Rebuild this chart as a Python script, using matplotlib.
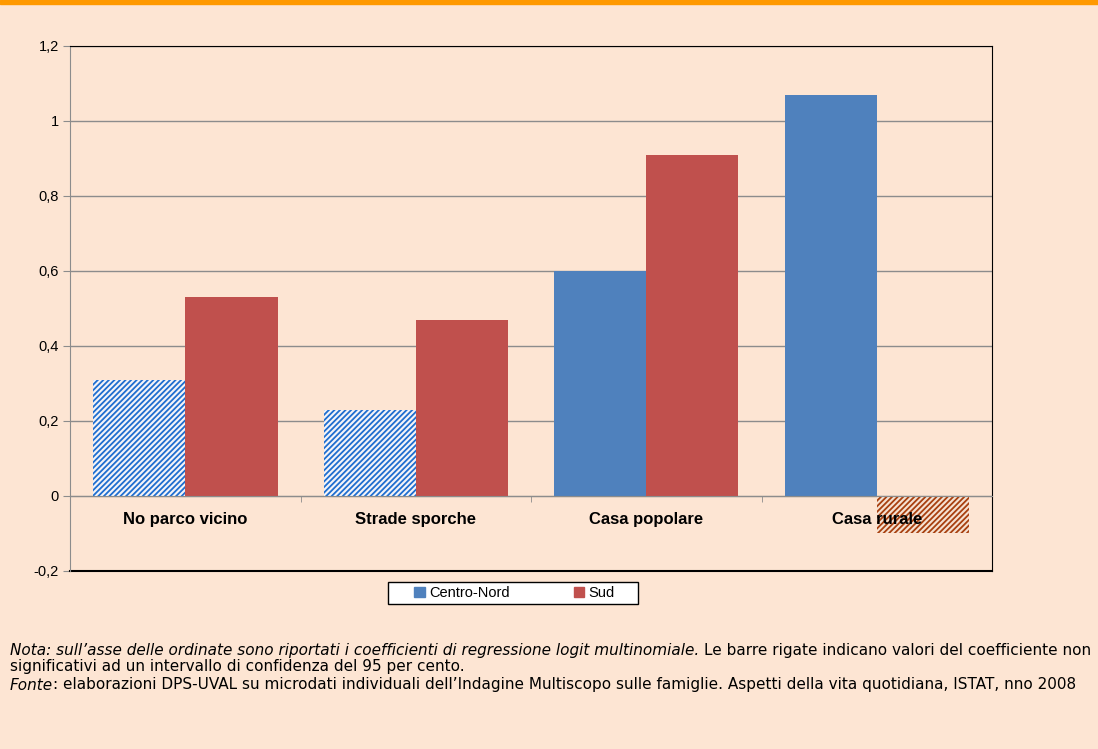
import matplotlib.pyplot as plt
import numpy as np
from matplotlib.patches import Patch

plt.rcParams['font.family'] = ['Liberation Sans', 'DejaVu Sans']
plt.rcParams['hatch.linewidth'] = 1.3

# Data
categories = ['No parco vicino', 'Strade sporche', 'Casa popolare', 'Casa rurale']
centro_nord = [0.31, 0.23, 0.60, 1.07]
sud = [0.53, 0.47, 0.91, -0.10]
# True = coefficient not significant (striped bar)
cn_not_sig = [True, True, False, False]
sud_not_sig = [False, False, False, True]
yticks = [-0.2, 0, 0.2, 0.4, 0.6, 0.8, 1.0, 1.2]

bg = '#FDE5D3'
blue = '#4F81BD'
red = '#C0504D'
blue_hatch = '#1F6ECF'
red_hatch = '#A8400F'

fig = plt.figure(figsize=(10.98, 7.49), dpi=100, facecolor=bg)
ax = fig.add_axes([0.0638, 0.2377, 0.8397, 0.7009])
ax.set_facecolor(bg)

x = np.arange(len(categories))
w = 0.4
for i in range(len(categories)):
    if cn_not_sig[i]:
        ax.bar(x[i] - w / 2, centro_nord[i], w, facecolor='#F4F4F8', edgecolor=blue_hatch,
               hatch='//////', linewidth=0, zorder=2)
    else:
        ax.bar(x[i] - w / 2, centro_nord[i], w, color=blue, linewidth=0, zorder=2)
    if sud_not_sig[i]:
        ax.bar(x[i] + w / 2, sud[i], w, facecolor='#F6E2D2', edgecolor=red_hatch,
               hatch='//////', linewidth=0, zorder=2)
    else:
        ax.bar(x[i] + w / 2, sud[i], w, color=red, linewidth=0, zorder=2)

ax.set_xlim(-0.5, len(categories) - 0.5)
ax.set_ylim(-0.2, 1.2)
ax.set_yticks(yticks)
ax.set_yticklabels([('%g' % v).replace('.', ',') for v in yticks], fontsize=10.5)
ax.yaxis.grid(True, color='#8C8C8C', linewidth=1)
ax.set_axisbelow(True)
ax.tick_params(axis='y', direction='out', length=5, color='#8C8C8C', pad=3)

# x axis on the zero line
ax.spines['bottom'].set_position(('data', 0))
ax.spines['bottom'].set_color('#8C8C8C')
ax.spines['left'].set_color('#8C8C8C')
ax.spines['top'].set_color('black')
ax.spines['right'].set_color('black')
ax.axhline(-0.2, color='black', linewidth=1.5, clip_on=False)
ax.set_xticks([])
ax.set_xticks(np.arange(len(categories) + 1) - 0.5, minor=True)
ax.tick_params(axis='x', which='minor', direction='out', length=4, color='#8C8C8C')
for i, c in enumerate(categories):
    ax.text(x[i], -0.064, c, ha='center', va='center', fontsize=12,
            fontweight='bold', zorder=5)

# legend box drawn separately, entries inside without frame
fig.patches.append(plt.Rectangle((388 / 1098, 1 - 604 / 749), 250 / 1098, 22 / 749,
                                 transform=fig.transFigure, facecolor='white',
                                 edgecolor='black', linewidth=1, zorder=3))
handles = [Patch(color=blue, label='Centro-Nord'), Patch(color=red, label='Sud')]
leg = fig.legend(handles=handles, loc='center', bbox_to_anchor=(0.4685, 1 - 593 / 749), ncol=2,
                 frameon=False, fontsize=10.5, handlelength=0.7, handleheight=0.7,
                 handletextpad=0.3, columnspacing=4.4, borderpad=0.2)
leg.set_zorder(4)

# orange top band
fig.patches.append(plt.Rectangle((0, 0.994), 1, 0.006, transform=fig.transFigure,
                                 color='#FF9900', zorder=10))

# footnotes
fs = 11.0
ff = 'DejaVu Sans'
fig.canvas.draw()
r = fig.canvas.get_renderer()
t1 = fig.text(0.009, 1 - 650 / 749, "Nota: sull\u2019asse delle ordinate sono riportati i coefficienti di regressione logit multinomiale.",
              fontsize=fs, style='italic', va='center', family=ff)
bb = t1.get_window_extent(renderer=r)
fig.text(bb.x1 / fig.bbox.width + 0.004, 1 - 650 / 749,
         "Le barre rigate indicano valori del coefficiente non", fontsize=fs, va='center', family=ff)
fig.text(0.009, 1 - 667 / 749, "significativi ad un intervallo di confidenza del 95 per cento.",
         fontsize=fs, va='center', family=ff)
t3 = fig.text(0.009, 1 - 685 / 749, "Fonte", fontsize=fs, style='italic', va='center', family=ff)
bb = t3.get_window_extent(renderer=r)
fig.text(bb.x1 / fig.bbox.width, 1 - 685 / 749,
         ": elaborazioni DPS-UVAL su microdati individuali dell\u2019Indagine Multiscopo sulle famiglie. Aspetti della vita quotidiana, ISTAT, nno 2008",
         fontsize=fs, va='center', family=ff)

fig.savefig('out.png', dpi=100, facecolor=bg)
